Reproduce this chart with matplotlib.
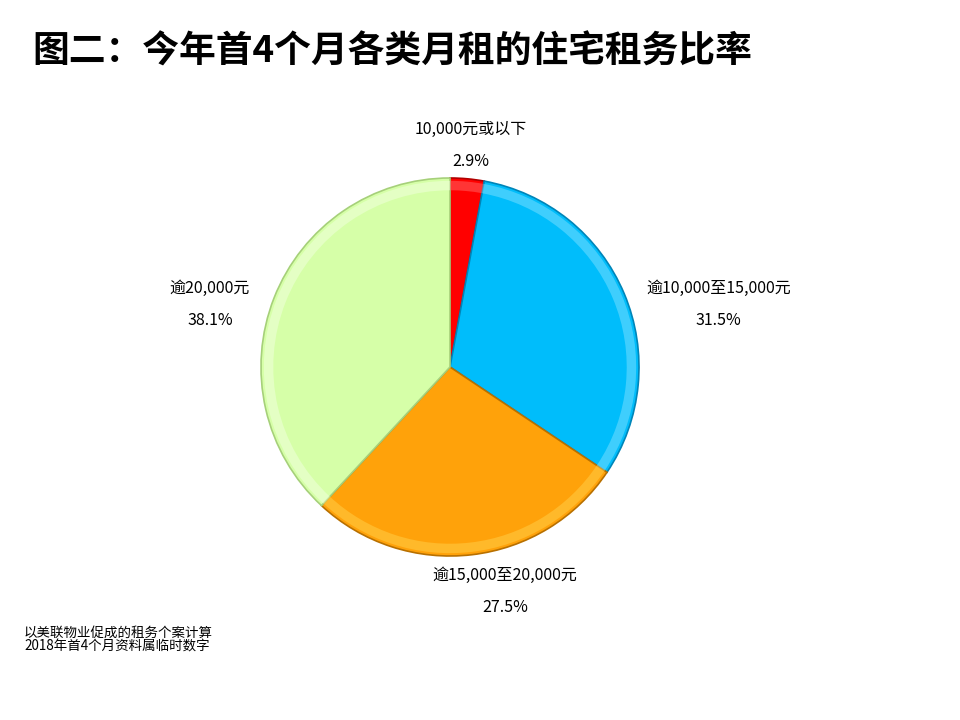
import matplotlib
matplotlib.use('Agg')
import matplotlib.pyplot as plt

plt.rcParams['font.family'] = ['Noto Sans CJK SC', 'DejaVu Sans']

# ── Data ──────────────────────────────────────────────────────────────────────
categories = ['10,000元或以下', '逾10,000至15,000元', '逾15,000至20,000元', '逾20,000元']
shares     = [2.9, 31.5, 27.5, 38.1]

TITLE = '图二：今年首4个月各类月租的住宅租务比率'
NOTES = ['以美联物业促成的租务个案计算', '2018年首4个月资料属临时数字']

# ── Style ─────────────────────────────────────────────────────────────────────
FILLS  = ['#FF0000', '#00BDFB', '#FFA20A', '#D6FFA8']
EDGES  = ['#B00000', '#0085B8', '#B87000', '#A6D07A']
RIMS   = ['#FF6A6A', '#7FE0FF', '#FFD04A', '#F2FFE0']
# label centres in pie units (radius = 1)
LABEL_XY = [(0.11, 1.17), (1.42, 0.33), (0.29, -1.19), (-1.27, 0.33)]

W, H = 960, 720
CX, CY, R = 450, 367, 189

fig = plt.figure(figsize=(W / 100, H / 100), dpi=100)
fig.patch.set_facecolor('white')

ax = fig.add_axes([(CX - R) / W, (H - CY - R) / H, 2 * R / W, 2 * R / H])

wedges, _ = ax.pie(
    shares, colors=FILLS, startangle=90, counterclock=False, radius=1,
    wedgeprops=dict(linewidth=1.2),
)
for w, ec in zip(wedges, EDGES):
    w.set_edgecolor(ec)
    w.set_clip_on(False)

# soft bevel highlight near the rim
rim, _ = ax.pie(
    shares, colors=RIMS, startangle=90, counterclock=False, radius=0.985,
    wedgeprops=dict(width=0.05, linewidth=0, alpha=0.5),
)
ax.set_xlim(-1, 1)
ax.set_ylim(-1, 1)
ax.set_aspect('equal')
ax.axis('off')

for name, pct, (lx, ly) in zip(categories, shares, LABEL_XY):
    ax.text(lx, ly, f'{name}\n\n{pct:.1f}%', ha='center', va='center',
            fontsize=11.5, fontweight='medium', linespacing=0.92,
            color='black', clip_on=False)

fig.text(32 / W, 1 - 52 / H, TITLE, ha='left', va='center',
         fontsize=26.5, fontweight='bold')
fig.text(24 / W, 1 - 640 / H, '\n'.join(NOTES), ha='left', va='center',
         fontsize=9.7, linespacing=1.0)

fig.savefig('out.png', dpi=100)
